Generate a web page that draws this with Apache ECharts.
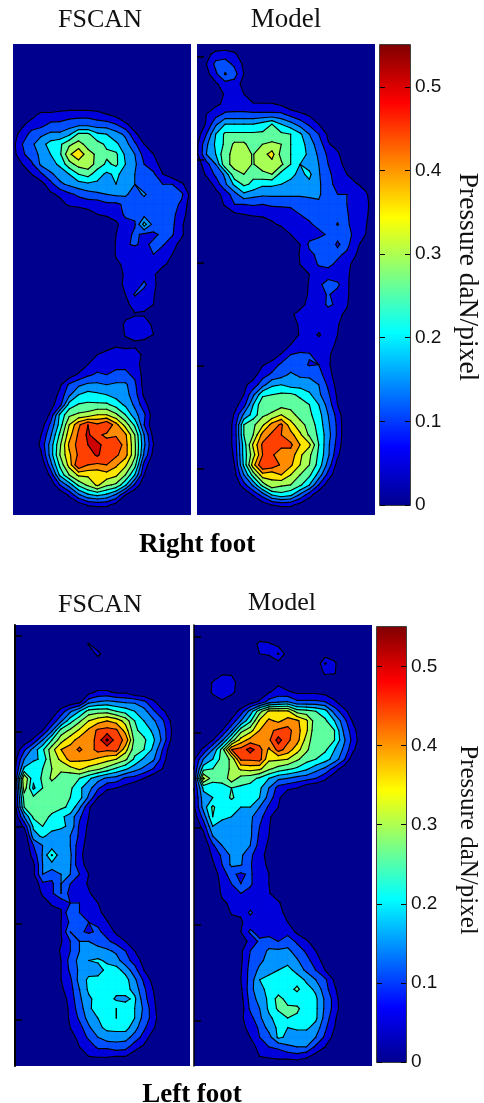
<!DOCTYPE html>
<html>
<head>
<meta charset="utf-8">
<title>Foot pressure</title>
<script src="https://cdn.jsdelivr.net/npm/echarts@6/dist/echarts.min.js"></script>
<style>html,body{margin:0;background:#fff}#chart{width:484px;height:1103px}</style>
</head>
<body>
<div id="chart"></div>
<script>
// pressure, in hundredths of daN/pixel. rows top to bottom, trailing zeros left out
const rightFscan = [
[],[],[],[],[],[],[],
[0,0,3,6,6,7,8,8,8,7,5,3],
[0,4,7,8,11,11,12,13,13,12,12,10,6,2],
[3,7,12,14,16,16,19,26,26,21,20,17,14,6,2],
[3.5,10,14,18,22,24,29,32,28,27,24,21,17,11,5,2],
[3,9,13,16,20,24,34,39,32,29,26,26,19,15,8,5,1],
[1,5,9,16,18,21,28,32,33,28,24,26,20,16,10,7,3],
[0,2,5,9,14,17,20,25,27,22,19,21,18,15,10,11,5,2],
[0,0,0,3,8,14,16,18,19,19,18,20,16,15,11,10,10,10,6,1],
[0,0,0,0,4,6,9,11,13,14,15,16,16,12,16,11,12,12,11,3],
[0,0,0,0,0,3,6,7,7,7,9,9,11,11,11,11,12,12,9,2],
[0,0,0,0,0,0,0,0,3,5,6,7,11,11,13,13,11,11,8,1],
[0,0,0,0,0,0,0,0,0,0,1,4,8,9.5,22,13,11,11,6],
[0,0,0,0,0,0,0,0,0,0,0,5,8,11,9,9,11,10.5,6],
[0,0,0,0,0,0,0,0,0,0,0,5.5,9.5,10.5,9,11,10.5,7,3],
[0,0,0,0,0,0,0,0,0,0,0,5.5,6,7,9,10,7,5,1],
[0,0,0,0,0,0,0,0,0,0,0,4,6,6,7,8,6,3],
[0,0,0,0,0,0,0,0,0,0,0,2,6,7,8,6,1],
[0,0,0,0,0,0,0,0,0,0,0,3,6,7,11,6.5,1],
[0,0,0,0,0,0,0,0,0,0,0,1,5,10.5,8,5.5],
[0,0,0,0,0,0,0,0,0,0,0,0,3.5,7,6,5],
[0,0,0,0,0,0,0,0,0,0,0,0,3,4.5,4.5,1],
[0,0,0,0,0,0,0,0,0,0,0,0,6.5,8,7.5,4],
[0,0,0,0,0,0,0,0,0,0,0,0,5.5,7.5,7,5],
[0,0,0,0,0,0,0,0,0,0,2,4,3,3.5,3],
[0,0,0,0,0,0,0,0,0,5,7,8,8,8,3.5],
[0,0,0,0,0,0,0,0,5,7,9,9,9,7,3],
[0,0,0,0,0,0,2,6,9,11,10,11,11,9,3],
[0,0,0,0,0,4,11,14,16,16,15,16,16,11,3],
[0,0,0,0,1,6.5,14,20,22,21,20,18,17,12,4],
[0,0,0,0,3,8,22,25.5,26,26,26,23,19,14,7,1],
[0,0,0,0,6,21,29,31,32,35,35,31,25,17,11,2],
[0,0,0,2,11,22,35,44,50,46,50,42,33,24,10,1],
[0,0,0,5,14,26,38,46,51,46,44,44,41,30,15,3],
[0,0,0,6.5,17,29,41,47,50,52,47,50,42,31,16,5],
[0,0,0,4,17,30,39,46,47,51,46,46,42,31,14,3],
[0,0,0,0,13,26,37,50,45,44,45,41,36,27,8],
[0,0,0,0,6,21,30,36,36,36,38,36,30,20,5],
[0,0,0,0,1,10,17,26,31,36,31,29,21,9,1],
[0,0,0,0,0,0,6,14,19,21,19,14,5],
[0,0,0,0,0,0,0,2,5.5,6,6,3],
[]
];
const rightModel = [
[],
[0,3,7,8,6,1],
[0,5,11.5,12,9,4],
[0,3,9,15.5,12,5],
[0,0,4,8,8,3],
[0,0,0,6,6,5,1],
[0,0,4,6,7,7,5.5,5.5,5.5,4,1],
[0,5,8,11,11,11,11,11,11,11,8,6,4],
[1,5.5,14,20,20,20,20,22,25,20,17,13,9,5,1],
[2,10,20,26,26,26,26,26,27,26,25,21,15,10,4],
[4,14,21,26,31,31,27,30,31,30,25,23,17,13,5.5,3],
[4,15,20,29,31,31,29.8,33,37,28,25,22,19,14,9,6,1],
[2,8,15,29,31,31,29.8,32,33,31,25,20,18,15,10,7,3],
[0,6,11,16,29,30,26,29,30,23,21,19,21,15.5,11,8,5,1],
[0,1,7,14,21,26,24,21,21,20,19,19,19,16,11,9,7,5.5,3],
[0,0,3,7,13,19,17,16,16,16,16,16,16,16,11,10,10,8,6,1],
[0,0,0,6,10,10,10.5,10,11,11,11,11,13,14,11,10,10,8,6.5,2],
[0,0,0,0,4,5,6,6,6,7,8,10,11,12,11,12,10.5,7,6,2],
[0,0,0,0,0,0,0,2,4.5,5.5,6,8,9.5,11,11,15.5,11,7,5.5,1],
[0,0,0,0,0,0,0,0,0,3,5,6,8,9,10.5,11,12,8,5],
[0,0,0,0,0,0,0,0,0,0,3,5,11,12,12,9.5,11.5,6,3],
[0,0,0,0,0,0,0,0,0,0,1,5.5,9,11,11,11,9,5,1],
[0,0,0,0,0,0,0,0,0,0,0,5,7,10.5,11,9,6,3.5],
[0,0,0,0,0,0,0,0,0,0,0,3,5,7,8,7,6,2],
[0,0,0,0,0,0,0,0,0,0,0,2,5.5,9,12,11,6,1],
[0,0,0,0,0,0,0,0,0,0,0,3,5.5,8,10.5,8,6,1],
[0,0,0,0,0,0,0,0,0,0,0,4,6,7,11,9,5.5],
[0,0,0,0,0,0,0,0,0,0,4.5,6,7,7,7,6,4],
[0,0,0,0,0,0,0,0,0,0,2,6,7,7,7,5.5,2],
[0,0,0,0,0,0,0,0,0,0,2,5.5,7,4.5,7,5,1],
[0,0,0,0,0,0,0,0,0,1,5,6.5,7,7,7,4],
[0,0,0,0,0,0,0,0,2,5.5,10,11,10.5,7,6,2],
[0,0,0,0,0,0,0,4.5,7,11,12,12,9.5,10,6,1],
[0,0,0,0,0,0,3,8,11,13,16,14,14,12,7,2],
[0,0,0,0,0,4,7,13,19,20,18,18,17,15,9,3],
[0,0,0,0,1,5,14,24,25,26,26,24,21,16,11,4],
[0,0,0,0,3,8,20,29,27,28,28,27,25,20,13,5],
[0,0,0,0,5.5,16,22,29,31,35,32,28,26,22,15,8],
[0,0,0,0,7,25,29,34,42,46,37,32,28,23,16,9],
[0,0,0,0,7,25,30,42,46,45,42,36,29,24,17,9],
[0,0,0,0,7,22,36,46,50,47,46,40,36,25,16,8],
[0,0,0,0,6,22,33,45,46,41,43,36,31,24,16,6],
[0,0,0,0,5,21,38,50,49,44,41,35,30,23,13,3],
[0,0,0,0,3,15,27,38,36,40,35,30,26,18,8,1],
[0,0,0,0,0,8,16,27,34,31,30,26,20,10,2],
[0,0,0,0,0,0,5.5,12,20,23,21,14,7,1],
[0,0,0,0,0,0,0,2,5,6,6,3],
[]
];
const leftFscan = [
[],[],
[0,0,0,0,0,0,0,0,5.5],
[0,0,0,0,0,0,0,0,0,7],
[],[],[],
[0,0,0,0,0,0,0,0,3,6,6,4,4],
[0,0,0,0,0,0,1,3,13,15,16,15,14,14,11,6,1],
[0,0,0,0,1,7,14,20,27,28,28,25,23,20,17,11,6,2],
[0,0,0,0,6,14,23,29,35,38,40,38,33,25,20,16,11,4],
[0,0,1,5,14,27,31,36,41,46,47,46,38,26,23,19,13,5],
[0,1,6,15,25,33,38,42,42,47,56,47,44,28,26,21,14,4],
[1,9,17,24,33,40,42,46,42,47,46,47,37,27,25,19,10,1],
[3,15,19,21,32,36,42,41,41,39,37,35,31,24,19,16,8],
[4,21,24,25,30,31,33,36,33,31,28,24,21,17,14,10,5],
[5,35,21,26,31,28,26,25,21,17,14,13,9,8,5,1],
[4,33,19,25,27,26,26,21,17,11,6,5,3],
[4,27,26,26,26,26,25,22,14,5,1],
[3,25,27,27,27,26,24,16,6],
[1,15,26,27,24,21,18,11,5],
[0,6,21,25,22,21,19,9,4],
[0,0,18,21,18,17,15,9,3],
[0,0,10,15,17,16,15,7,3],
[0,0,7,15.5,25.5,16,16,6,3],
[0,0,4,15,18,17,15.5,6,4],
[0,0,4,15,12,15,15,10,5],
[0,0,0,9,9,15,10,9,4],
[0,0,0,6,9,15,8,8,6,1],
[0,0,0,2,6,6,10,10,8,5,1],
[0,0,0,0,2,4.5,15,10,9,7,2],
[0,0,0,0,0,5,11,11,10,9,5.5,1],
[0,0,0,0,0,5,15,11,9,11,8,4],
[0,0,0,0,0,4.5,10,15,15,14,11,8,5,1],
[0,0,0,0,0,6,10,15,16,16,16,14,10,5,1],
[0,0,0,0,0,5,12,16.5,20,21,19,17,12,8,3],
[0,0,0,0,0,5,11,16,18,17,22,22,18,12,5,1],
[0,0,0,0,0,5,9,17,21,22,22,23,22,16,9,3],
[0,0,0,0,0,4,8,15,21,22,22,22,22,18,11,5],
[0,0,0,0,0,2,7,14,19,22,23,19,19,21,12,6],
[0,0,0,0,0,2,6,13,18,25,23,25,22,20,14,7],
[0,0,0,0,0,3,5.5,11,17,20,22,25,22,20,13,8],
[0,0,0,0,0,0,5,8,14,19,21,22,22,17,11,6],
[0,0,0,0,0,0,3,6.5,11,15,18,17,17,13,8,2],
[0,0,0,0,0,0,0,5,7,11,11,13,12,7,4],
[0,0,0,0,0,0,0,0,5,5.5,5.5,5,5,2],
[]
];
const leftModel = [
[],[],
[0,0,0,0,0,0,0,7,6,3],
[0,0,0,0,0,0,0,5,6,10.5,2,0,0,0,2,2],
[0,0,0,0,0,0,0,0,0,3,0,0,0,0,10.5,6],
[0,0,0,4,4,0,0,0,0,0,0,0,0,0,6,5.5],
[0,0,5.5,9,8,1,0,0,0,4],
[0,0,6,9,7,1,0,0,4.5,7,6,4,4,4,3],
[0,0,2,4,0,0,2,6,12,14,15,11,11,11,10,6,1],
[0,0,0,0,1,7,17,28,36,36,36,28,27,25,22,13,7,1],
[0,0,0,0,6,15,24,36,41,39,42,41,36,27,26,20,12,4],
[0,0,1,5,14,28,33,40,44,46,47,42,36,26,26,25,14,7],
[0,1,5,14,27,37,42,42,44,52,46,42,33,26,26,25,16,8,1],
[1,6,15,27,45,47,52,47,39,47,43,37,31,26,26,20,14,6],
[4,15,20,27,31,46,46,47,36,36,35,31,27,25,22,18,11,1],
[5,23,25,27,31,36,37,36,31,28,26,24,21,17,14,8,2],
[5,36,27,26,33,28,27,24,20,16,15,13,12,10,6,1],
[5,21,22,24,25,24,23,21,15,8,6,5,1],
[4,18,20,21,26,22,25,20,13,6,1],
[4,17,26,21,21,20,20,15,9,5],
[2,12,25,21,20,17,16,12,6,1],
[0,7,20,18,17,16,16,10,5.5],
[0,3,15,16,16,16,16,9,5],
[0,0,9,15,17,16,15,8,4],
[0,0,6,11,16,16,11,7,3],
[0,0,4,10,16,15.5,10.5,7,4],
[0,0,0,9,11,9,11,6,5,1],
[0,0,0,7,10,10,11,6,5],
[0,0,0,6,6,10,8,6,5.5,1],
[0,0,0,4,6,6.5,7,7,7,6,1],
[0,0,0,1,5.5,5.5,11,7,7,7,3],
[0,0,0,0,3,4.5,7,7,7,8,5],
[0,0,0,0,0,5,11,8,8,9,8,4],
[0,0,0,0,0,3,6,11,12,10,13,9,6,1],
[0,0,0,0,0,4,10,12,16,16,16,13,9,5,1],
[0,0,0,0,0,4,11,14,16.5,17,18,15.5,12,7,3],
[0,0,0,0,0,4.5,12,16,18,20,22,18,14,10,5],
[0,0,0,0,0,5,12,20,22,22,22,23,19,15,11,4],
[0,0,0,0,0,4,13,19,21,22,23,26,22,19,12,6],
[0,0,0,0,0,3,12,17,21,27,23,22,21,21,14,8],
[0,0,0,0,0,2,11,15,21,26,26,26,22,21,14,8,1],
[0,0,0,0,0,4,8,14,19,22,25,24,22,21,13,6],
[0,0,0,0,0,4,6,11,17,21,20,21,21,18,11,5],
[0,0,0,0,0,0,5,10,13,21,19,17,17,15,9,3],
[0,0,0,0,0,0,3,6.5,10,11,14,15,15,9,5],
[0,0,0,0,0,0,0,5,6,7,7,8,6,3],
[]
];

const contourLevels = [5, 10, 15, 20, 25, 30, 35, 40, 45, 50, 55];
const bandColors = ['#0000dd', '#0050ff', '#0095ff', '#00ffff', '#60ff9f', '#aaff55', '#ffe600', '#ff8c00', '#ff4000', '#cc0000', '#800000'];
const cbarTicks = [0, 0.1, 0.2, 0.3, 0.4, 0.5];
const jetStops = [
  { offset: 0, color: '#800000' },
  { offset: 0.125, color: '#ff0000' },
  { offset: 0.375, color: '#ffff00' },
  { offset: 0.625, color: '#00ffff' },
  { offset: 0.875, color: '#0000ff' },
  { offset: 1, color: '#00008f' }
];
const panelTitles = [
  ['FSCAN', 100, 20, 26], ['Model', 286, 20, 27],
  ['FSCAN', 100, 605, 26], ['Model', 282, 603, 26]
];
const footTitles = [['Right foot', 197, 545], ['Left foot', 192, 1095]];

const panels = [
  { data: rightFscan, rows: 47, grid: { left: 13, top: 44, width: 178, height: 471 }, ticks: [], line: 0 },
  { data: rightModel, rows: 47, grid: { left: 197, top: 44, width: 178, height: 471 }, ticks: [1.3, 11.6, 21.8, 32.1, 42.4], line: 0 },
  { data: leftFscan, rows: 46, grid: { left: 15, top: 625, width: 175, height: 441 }, ticks: [1.15, 11.15, 21.05, 31.15, 41.2], line: 2 },
  { data: leftModel, rows: 46, grid: { left: 194, top: 625, width: 178, height: 441 }, ticks: [1.25, 11.25, 21.15, 31.25, 41.3], line: 1.5 }
];
const cbars = [
  { left: 380, top: 45, width: 30, height: 460 },
  { left: 377, top: 627, width: 29, height: 435 }
];

function cellsFrom(matrix, rows, level) {
  const out = [];
  for (let j = 0; j < rows; j++) {
    for (let i = 0; i < 19; i++) {
      const a = (matrix[j] || [])[i] || 0, b = (matrix[j] || [])[i + 1] || 0;
      const c = (matrix[j + 1] || [])[i + 1] || 0, d = (matrix[j + 1] || [])[i] || 0;
      if (Math.max(a, b, c, d) >= level) out.push([i, j, a, b, c, d]);
    }
  }
  return out;
}

// clip one grid cell to v >= level. crossing points are flagged so the contour segments can be picked out
function clipCell(corners, level) {
  const pts = [];
  for (let k = 0; k < 4; k++) {
    const p = corners[k], q = corners[(k + 1) % 4];
    const pIn = p[2] >= level, qIn = q[2] >= level;
    if (pIn) pts.push([p[0], p[1], false]);
    if (pIn !== qIn) {
      const t = (level - p[2]) / (q[2] - p[2]);
      pts.push([p[0] + t * (q[0] - p[0]), p[1] + t * (q[1] - p[1]), true]);
    }
  }
  return pts;
}

function cellCorners(api) {
  const i = api.value(0), j = api.value(1);
  return [[i, j, api.value(2)], [i + 1, j, api.value(3)], [i + 1, j + 1, api.value(4)], [i, j + 1, api.value(5)]];
}

const renderBand = n => (params, api) => {
  const pts = clipCell(cellCorners(api), contourLevels[n]);
  if (pts.length < 3) return null;
  return {
    type: 'polygon',
    shape: { points: pts.map(p => api.coord([p[0], p[1]])) },
    style: { fill: bandColors[n], stroke: bandColors[n], lineWidth: 0.6 }
  };
};

function renderLines(params, api) {
  const corners = cellCorners(api);
  const children = [];
  contourLevels.forEach(level => {
    const pts = clipCell(corners, level);
    pts.forEach((p, k) => {
      const q = pts[(k + 1) % pts.length];
      if (!p[2] || !q[2]) return;
      const s = api.coord([p[0], p[1]]), e = api.coord([q[0], q[1]]);
      children.push({
        type: 'line',
        shape: { x1: s[0], y1: s[1], x2: e[0], y2: e[1] },
        style: { stroke: '#000', lineWidth: 1.15, lineCap: 'round' }
      });
    });
  });
  return { type: 'group', children };
}

function renderBar(params, api) {
  const top = api.coord([0, api.value(1)]), bottom = api.coord([0, api.value(0)]);
  return {
    type: 'rect',
    shape: { x: params.coordSys.x, y: top[1], width: params.coordSys.width, height: bottom[1] - top[1] },
    style: { fill: new echarts.graphic.LinearGradient(0, 0, 0, 1, jetStops) }
  };
}

const grids = [], xAxes = [], yAxes = [], series = [];
panels.forEach((p, n) => {
  grids.push({ ...p.grid, show: true, backgroundColor: '#00008f', borderWidth: 0 });
  xAxes.push({ type: 'value', gridIndex: n, min: 0, max: 19, show: false });
  yAxes.push({
    type: 'value', gridIndex: n, min: 0, max: p.rows, inverse: true, z: 10, splitLine: { show: false },
    axisLabel: { show: false },
    axisLine: { show: p.line > 0, lineStyle: { color: '#000', width: p.line } },
    axisTick: { show: p.ticks.length > 0, inside: true, length: 7, customValues: p.ticks, lineStyle: { color: '#000', width: 1.5 } }
  });
  const base = { type: 'custom', coordinateSystem: 'cartesian2d', xAxisIndex: n, yAxisIndex: n, encode: { x: 0, y: 1 }, silent: true, animation: false };
  contourLevels.forEach((level, k) => {
    series.push({ ...base, data: cellsFrom(p.data, p.rows, level), renderItem: renderBand(k), z: 2 });
  });
  series.push({ ...base, data: cellsFrom(p.data, p.rows, contourLevels[0]), renderItem: renderLines, z: 3 });
});
cbars.forEach((c, n) => {
  const g = panels.length + n;
  grids.push({ ...c, show: true, borderColor: '#000', borderWidth: 1.5, backgroundColor: 'transparent' });
  xAxes.push({ type: 'value', gridIndex: g, min: 0, max: 1, show: false });
  const tickStyle = { show: true, inside: true, length: 5, customValues: cbarTicks, lineStyle: { color: '#000', width: 1 } };
  yAxes.push({
    type: 'value', gridIndex: g, min: 0, max: 0.55, position: 'left', splitLine: { show: false }, z: 10,
    axisLabel: { show: false }, axisLine: { show: false }, axisTick: tickStyle
  });
  yAxes.push({
    type: 'value', gridIndex: g, min: 0, max: 0.55, position: 'right', splitLine: { show: false }, z: 10,
    axisLine: { show: false }, axisTick: tickStyle,
    axisLabel: { customValues: cbarTicks, margin: 5, color: '#111', fontFamily: 'Liberation Sans', fontSize: 19 }
  });
  series.push({
    type: 'custom', coordinateSystem: 'cartesian2d', xAxisIndex: g, yAxisIndex: yAxes.length - 2,
    data: [[0, 0.55]], encode: { y: [0, 1] }, renderItem: renderBar, silent: true, animation: false, z: 1
  });
});

const serif = '"Liberation Serif", serif';
const texts = [];
panelTitles.forEach(t => texts.push({
  type: 'text', x: t[1], y: t[2],
  style: { text: t[0], font: t[3] + 'px ' + serif, fill: '#111', textAlign: 'center', textVerticalAlign: 'middle' }
}));
footTitles.forEach(t => texts.push({
  type: 'text', x: t[1], y: t[2],
  style: { text: t[0], font: 'bold 27px ' + serif, fill: '#000', textAlign: 'center', textVerticalAlign: 'middle' }
}));
[[467, 277, 27.5], [468, 840, 25]].forEach(t => texts.push({
  type: 'text', x: t[0], y: t[1], rotation: -Math.PI / 2,
  style: { text: 'Pressure daN/pixel', font: t[2] + 'px ' + serif, fill: '#111', textAlign: 'center', textVerticalAlign: 'middle' }
}));

const chart = echarts.init(document.getElementById('chart'), null, { renderer: 'canvas' });
chart.setOption({
  animation: false,
  backgroundColor: '#fff',
  grid: grids,
  xAxis: xAxes,
  yAxis: yAxes,
  series,
  graphic: { elements: texts }
});
</script>
</body>
</html>
